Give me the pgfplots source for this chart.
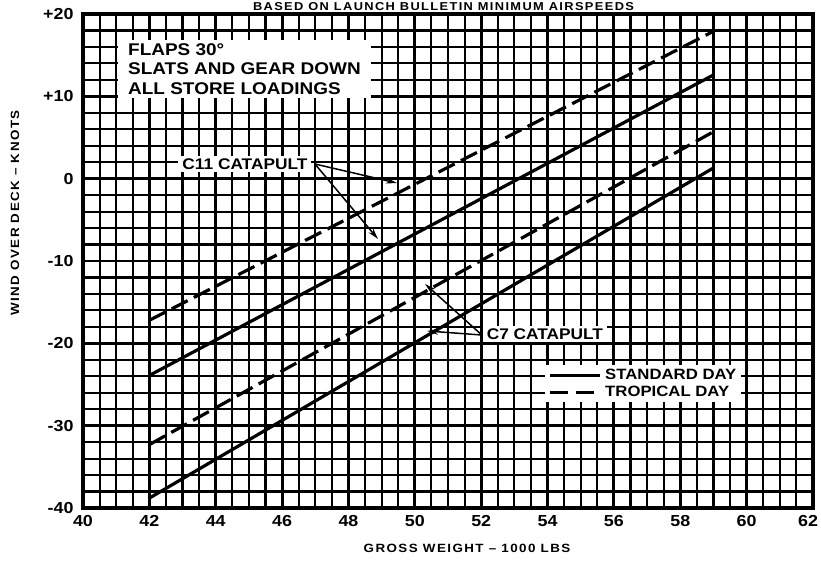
\documentclass[border=0pt]{standalone}
\usepackage{pgfplots}
\pgfplotsset{compat=1.18}
\usetikzlibrary{arrows.meta}
\usepackage{fontspec}
\setmainfont{Liberation Sans}
\newfontfamily\lab{Liberation Sans}[FakeStretch=1.12]
\newfontfamily\axlab{Liberation Sans}[FakeStretch=1.12,LetterSpace=12]
\begin{document}
\begin{tikzpicture}
\useasboundingbox (-83bp,-58bp) rectangle (738bp,508bp);
\begin{axis}[
  scale only axis, width=730bp, height=494bp,
  xmin=40, xmax=62, ymin=-40, ymax=20,
  xtick={40,42,...,62}, ytick={-40,-30,...,20},
  xticklabels={40,42,44,46,48,50,52,54,56,58,60,{\hspace*{-10bp}62}},
  yticklabels={-40,-30,-20,-10,0,+10,+20},
  minor x tick num=3, minor y tick num=4,
  grid=both,
  major grid style={line width=2.9bp,black},
  minor grid style={line width=2.1bp,black},
  axis line style={line width=3.4bp},
  major tick length=0pt, minor tick length=0pt,
  tick style={draw=none},
  xticklabel style={font=\lab\bfseries\fontsize{16}{18}\selectfont, yshift=-4bp},
  yticklabel style={font=\lab\bfseries\fontsize{16}{18}\selectfont, xshift=-6bp},
  legend style={at={(0.6329,0.2895)}, anchor=north west, draw=none, fill=white,
    font=\lab\bfseries\fontsize{15}{17}\selectfont, inner xsep=3bp, inner ysep=2bp,
    row sep=1bp, column sep=2bp},
  legend cell align=left,
  legend image code/.code={\draw[#1] (0bp,0bp) -- (50bp,0bp);},
]
\addlegendimage{black, line width=3bp}
\addlegendimage{black, line width=3bp, dash pattern=on 18bp off 8bp}
\legend{STANDARD DAY, TROPICAL DAY}
% C11 tropical day
\addplot[black, line width=3.2bp, dash pattern=on 18bp off 7bp, forget plot] coordinates {(42,-17.2) (59,17.9)};
% C11 standard day
\addplot[black, line width=3.2bp, forget plot] coordinates {(42,-23.9) (59,12.6)};
% C7 tropical day
\addplot[black, line width=3.2bp, dash pattern=on 18bp off 7bp, forget plot] coordinates {(42,-32.3) (59,5.7)};
% C7 standard day
\addplot[black, line width=3.2bp, forget plot] coordinates {(42,-38.8) (59,1.3)};

\node[anchor=north west, fill=white, align=left, inner xsep=10bp, inner ysep=3bp,
  font=\lab\bfseries\fontsize{17}{20}\selectfont] at (axis cs:41.055,16.84)
  {FLAPS 30°\\SLATS AND GEAR DOWN\\ALL STORE LOADINGS};

\node[fill=white, inner xsep=4bp, inner ysep=3bp, font=\lab\bfseries\fontsize{15.5}{17}\selectfont]
  at (axis cs:44.88,1.78) {C11 CATAPULT};
\draw[line width=1.5bp, -{Stealth[length=11bp,width=6bp]}] (axis cs:46.99,1.78) -- (axis cs:49.46,-0.53);
\draw[line width=1.5bp, -{Stealth[length=11bp,width=6bp]}] (axis cs:46.99,1.78) -- (axis cs:48.89,-7.33);

\node[fill=white, inner xsep=4bp, inner ysep=3bp, font=\lab\bfseries\fontsize{15.5}{17}\selectfont]
  at (axis cs:53.92,-18.87) {C7 CATAPULT};
\draw[line width=1.5bp, -{Stealth[length=11bp,width=6bp]}] (axis cs:52.02,-18.99) -- (axis cs:50.31,-12.79);
\draw[line width=1.5bp, -{Stealth[length=11bp,width=6bp]}] (axis cs:52.02,-18.99) -- (axis cs:50.37,-18.50);
\end{axis}
\node[anchor=base, font=\axlab\bfseries\fontsize{11.5}{13}\selectfont] at (360.5bp,497.8bp)
  {BASED ON LAUNCH BULLETIN MINIMUM AIRSPEEDS};
\node[font=\axlab\bfseries\fontsize{12}{14}\selectfont] at (384bp,-40bp)
  {GROSS WEIGHT – 1000 LBS};
\node[rotate=90, font=\axlab\bfseries\fontsize{12}{14}\selectfont] at (-68bp,295bp)
  {WIND OVER DECK – KNOTS};
\end{tikzpicture}
\end{document}
